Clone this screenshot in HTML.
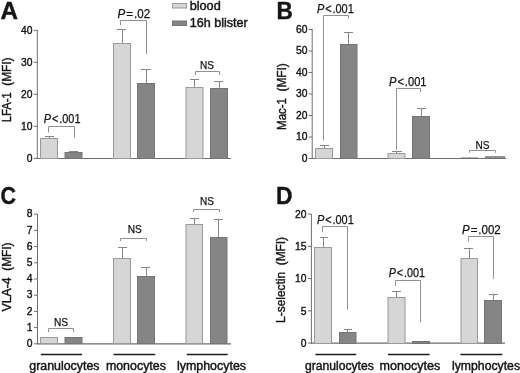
<!DOCTYPE html>
<html><head><meta charset="utf-8"><title>Figure</title>
<style>
html,body{margin:0;padding:0;background:#fff;}
body{width:520px;height:373px;overflow:hidden;}
svg{display:block;font-family:"Liberation Sans",sans-serif;will-change:transform;transform:translateZ(0);}
text{fill:#141414;stroke:#141414;stroke-width:0.4px;}
text.p{stroke-width:0.25px;}
text.h{stroke-width:0.45px;}
</style></head><body>
<svg width="520" height="373" viewBox="0 0 520 373">
<rect x="0" y="0" width="520" height="373" fill="#ffffff" stroke="none"/>
<text x="0.5" y="19" font-size="23.5" text-anchor="start" font-weight="bold" textLength="17.5" lengthAdjust="spacingAndGlyphs" >A</text>
<text x="276.6" y="19" font-size="23.5" text-anchor="start" font-weight="bold" textLength="16.3" lengthAdjust="spacingAndGlyphs" >B</text>
<text x="0.5" y="204" font-size="23.5" text-anchor="start" font-weight="bold" textLength="15.5" lengthAdjust="spacingAndGlyphs" >C</text>
<text x="276" y="204" font-size="23.5" text-anchor="start" font-weight="bold" textLength="16.5" lengthAdjust="spacingAndGlyphs" >D</text>
<line x1="37.3" y1="30" x2="37.3" y2="159.0" stroke="#6e6e6e" stroke-width="1"/>
<line x1="36.8" y1="158.5" x2="231" y2="158.5" stroke="#6e6e6e" stroke-width="1.1"/>
<line x1="33.8" y1="30.3" x2="37.3" y2="30.3" stroke="#6e6e6e" stroke-width="1"/>
<text x="32.5" y="34.4" font-size="11.8" text-anchor="end" font-weight="normal" textLength="11.5" lengthAdjust="spacingAndGlyphs" >40</text>
<line x1="33.8" y1="62.3" x2="37.3" y2="62.3" stroke="#6e6e6e" stroke-width="1"/>
<text x="32.5" y="66.39999999999999" font-size="11.8" text-anchor="end" font-weight="normal" textLength="11.5" lengthAdjust="spacingAndGlyphs" >30</text>
<line x1="33.8" y1="94.3" x2="37.3" y2="94.3" stroke="#6e6e6e" stroke-width="1"/>
<text x="32.5" y="98.39999999999999" font-size="11.8" text-anchor="end" font-weight="normal" textLength="11.5" lengthAdjust="spacingAndGlyphs" >20</text>
<line x1="33.8" y1="126.3" x2="37.3" y2="126.3" stroke="#6e6e6e" stroke-width="1"/>
<text x="32.5" y="130.4" font-size="11.8" text-anchor="end" font-weight="normal" textLength="11.5" lengthAdjust="spacingAndGlyphs" >10</text>
<line x1="33.8" y1="158.3" x2="37.3" y2="158.3" stroke="#6e6e6e" stroke-width="1"/>
<text x="32.5" y="162.4" font-size="11.8" text-anchor="end" font-weight="normal" textLength="5.75" lengthAdjust="spacingAndGlyphs" >0</text>
<text transform="translate(10.6,122.3) rotate(-90)" font-size="13.2" textLength="30.0" lengthAdjust="spacingAndGlyphs">LFA-1</text>
<text transform="translate(10.6,85.8) rotate(-90)" font-size="13.2" textLength="28.3" lengthAdjust="spacingAndGlyphs">(MFI)</text>
<line x1="49.5" y1="136.5" x2="49.5" y2="138.5" stroke="#868686" stroke-width="1"/>
<line x1="45" y1="136.5" x2="54" y2="136.5" stroke="#868686" stroke-width="1"/>
<rect x="40.5" y="138.5" width="17" height="20.0" fill="#d6d6d6" stroke="#9a9a9a" stroke-width="1"/>
<line x1="73.5" y1="151.5" x2="73.5" y2="152.5" stroke="#868686" stroke-width="1"/>
<line x1="69" y1="151.5" x2="78" y2="151.5" stroke="#868686" stroke-width="1"/>
<rect x="65.0" y="152.5" width="17.0" height="6.0" fill="#858585" stroke="#747474" stroke-width="1"/>
<line x1="122.5" y1="29.5" x2="122.5" y2="43.5" stroke="#868686" stroke-width="1"/>
<line x1="117" y1="29.5" x2="126" y2="29.5" stroke="#868686" stroke-width="1"/>
<rect x="113.5" y="43.5" width="17" height="115.0" fill="#d6d6d6" stroke="#9a9a9a" stroke-width="1"/>
<line x1="146.5" y1="69.5" x2="146.5" y2="83.5" stroke="#868686" stroke-width="1"/>
<line x1="141" y1="69.5" x2="151" y2="69.5" stroke="#868686" stroke-width="1"/>
<rect x="137.5" y="83.5" width="17" height="75.0" fill="#858585" stroke="#747474" stroke-width="1"/>
<line x1="194.5" y1="79.5" x2="194.5" y2="87.5" stroke="#868686" stroke-width="1"/>
<line x1="190" y1="79.5" x2="199" y2="79.5" stroke="#868686" stroke-width="1"/>
<rect x="186.0" y="87.5" width="17.0" height="71.0" fill="#d6d6d6" stroke="#9a9a9a" stroke-width="1"/>
<line x1="219.5" y1="81.5" x2="219.5" y2="88.5" stroke="#868686" stroke-width="1"/>
<line x1="214" y1="81.5" x2="223" y2="81.5" stroke="#868686" stroke-width="1"/>
<rect x="210.5" y="88.5" width="17" height="70.0" fill="#858585" stroke="#747474" stroke-width="1"/>
<polyline points="48.5,132.5 48.5,126.5 74.5,126.5 74.5,137.5" fill="none" stroke="#909090" stroke-width="1"/>
<text class="p" x="43.8" y="123" font-size="12.1" textLength="36.7" lengthAdjust="spacingAndGlyphs"><tspan font-style="italic">P</tspan><tspan dx="1">&lt;</tspan><tspan dx="1">.001</tspan></text>
<polyline points="120.5,25 120.5,20.5 146.5,20.5 146.5,54" fill="none" stroke="#909090" stroke-width="1"/>
<text class="p" x="117.6" y="17.8" font-size="12.1" textLength="32.599999999999994" lengthAdjust="spacingAndGlyphs"><tspan font-style="italic">P</tspan><tspan dx="1">=</tspan><tspan dx="1">.02</tspan></text>
<polyline points="195.5,75 195.5,71.5 219.5,71.5 219.5,75" fill="none" stroke="#909090" stroke-width="1"/>
<text x="200" y="69" font-size="11.4" text-anchor="start" font-weight="normal" textLength="14" lengthAdjust="spacingAndGlyphs" class="p">NS</text>
<rect x="172.5" y="3.5" width="14" height="4.5" fill="#d6d6d6" stroke="#9a9a9a" stroke-width="1"/>
<text x="189.7" y="9.8" font-size="13" text-anchor="start" font-weight="normal" textLength="31" lengthAdjust="spacingAndGlyphs" class="h">blood</text>
<rect x="172.5" y="21" width="14" height="4.5" fill="#858585" stroke="#747474" stroke-width="1"/>
<text x="189.7" y="26.8" font-size="13" text-anchor="start" font-weight="normal" textLength="58" lengthAdjust="spacingAndGlyphs" class="h">16h blister</text>
<line x1="312.2" y1="29" x2="312.2" y2="159.0" stroke="#6e6e6e" stroke-width="1"/>
<line x1="311.7" y1="158.5" x2="506" y2="158.5" stroke="#6e6e6e" stroke-width="1.1"/>
<line x1="308.7" y1="29.5" x2="312.2" y2="29.5" stroke="#6e6e6e" stroke-width="1"/>
<text x="307.6" y="32.7" font-size="11.8" text-anchor="end" font-weight="normal" textLength="11.5" lengthAdjust="spacingAndGlyphs" >60</text>
<line x1="308.7" y1="51.0" x2="312.2" y2="51.0" stroke="#6e6e6e" stroke-width="1"/>
<text x="307.6" y="54.2" font-size="11.8" text-anchor="end" font-weight="normal" textLength="11.5" lengthAdjust="spacingAndGlyphs" >50</text>
<line x1="308.7" y1="72.5" x2="312.2" y2="72.5" stroke="#6e6e6e" stroke-width="1"/>
<text x="307.6" y="75.7" font-size="11.8" text-anchor="end" font-weight="normal" textLength="11.5" lengthAdjust="spacingAndGlyphs" >40</text>
<line x1="308.7" y1="94.0" x2="312.2" y2="94.0" stroke="#6e6e6e" stroke-width="1"/>
<text x="307.6" y="97.2" font-size="11.8" text-anchor="end" font-weight="normal" textLength="11.5" lengthAdjust="spacingAndGlyphs" >30</text>
<line x1="308.7" y1="115.5" x2="312.2" y2="115.5" stroke="#6e6e6e" stroke-width="1"/>
<text x="307.6" y="118.7" font-size="11.8" text-anchor="end" font-weight="normal" textLength="11.5" lengthAdjust="spacingAndGlyphs" >20</text>
<line x1="308.7" y1="137.0" x2="312.2" y2="137.0" stroke="#6e6e6e" stroke-width="1"/>
<text x="307.6" y="140.2" font-size="11.8" text-anchor="end" font-weight="normal" textLength="11.5" lengthAdjust="spacingAndGlyphs" >10</text>
<line x1="308.7" y1="158.5" x2="312.2" y2="158.5" stroke="#6e6e6e" stroke-width="1"/>
<text x="307.6" y="161.7" font-size="11.8" text-anchor="end" font-weight="normal" textLength="5.75" lengthAdjust="spacingAndGlyphs" >0</text>
<text transform="translate(285.8,129.9) rotate(-90)" font-size="13.2" textLength="31.9" lengthAdjust="spacingAndGlyphs">Mac-1</text>
<text transform="translate(285.8,91.5) rotate(-90)" font-size="13.2" textLength="28.3" lengthAdjust="spacingAndGlyphs">(MFI)</text>
<line x1="324.5" y1="145.5" x2="324.5" y2="148.5" stroke="#868686" stroke-width="1"/>
<line x1="320" y1="145.5" x2="329" y2="145.5" stroke="#868686" stroke-width="1"/>
<rect x="315.5" y="148.5" width="17" height="10.0" fill="#d6d6d6" stroke="#9a9a9a" stroke-width="1"/>
<line x1="348.5" y1="32.5" x2="348.5" y2="44.5" stroke="#868686" stroke-width="1"/>
<line x1="344" y1="32.5" x2="353" y2="32.5" stroke="#868686" stroke-width="1"/>
<rect x="340.5" y="44.5" width="16.5" height="114.0" fill="#858585" stroke="#747474" stroke-width="1"/>
<line x1="396.5" y1="151.5" x2="396.5" y2="153.5" stroke="#868686" stroke-width="1"/>
<line x1="392" y1="151.5" x2="402" y2="151.5" stroke="#868686" stroke-width="1"/>
<rect x="388.0" y="153.5" width="17.0" height="5.0" fill="#d6d6d6" stroke="#9a9a9a" stroke-width="1"/>
<line x1="421.5" y1="108.5" x2="421.5" y2="116.5" stroke="#868686" stroke-width="1"/>
<line x1="417" y1="108.5" x2="426" y2="108.5" stroke="#868686" stroke-width="1"/>
<rect x="412.5" y="116.5" width="17" height="42.0" fill="#858585" stroke="#747474" stroke-width="1"/>
<line x1="461" y1="157.5" x2="478" y2="157.5" stroke="#b4b4b4" stroke-width="1"/>
<line x1="485" y1="157" x2="505" y2="157" stroke="#777" stroke-width="1.6"/>
<polyline points="323.5,140.5 323.5,15.5 348.5,15.5 348.5,18.8" fill="none" stroke="#909090" stroke-width="1"/>
<text class="p" x="317" y="12.5" font-size="12.1" textLength="36.80000000000001" lengthAdjust="spacingAndGlyphs"><tspan font-style="italic">P</tspan><tspan dx="1">&lt;</tspan><tspan dx="1">.001</tspan></text>
<polyline points="396.5,150 396.5,88.5 420.5,88.5 420.5,92" fill="none" stroke="#909090" stroke-width="1"/>
<text class="p" x="389" y="86" font-size="12.1" textLength="37.60000000000002" lengthAdjust="spacingAndGlyphs"><tspan font-style="italic">P</tspan><tspan dx="1">&lt;</tspan><tspan dx="1">.001</tspan></text>
<polyline points="469.5,152.8 469.5,150.5 495.5,150.5 495.5,152.8" fill="none" stroke="#909090" stroke-width="1"/>
<text x="475.4" y="148.6" font-size="11.4" text-anchor="start" font-weight="normal" textLength="14" lengthAdjust="spacingAndGlyphs" class="p">NS</text>
<line x1="37.5" y1="214" x2="37.5" y2="344.4" stroke="#6e6e6e" stroke-width="1"/>
<line x1="37.0" y1="343.9" x2="231" y2="343.9" stroke="#6e6e6e" stroke-width="1.1"/>
<line x1="34.0" y1="214.2" x2="37.5" y2="214.2" stroke="#6e6e6e" stroke-width="1"/>
<text x="32.5" y="217.29999999999998" font-size="11.8" text-anchor="end" font-weight="normal" textLength="5.75" lengthAdjust="spacingAndGlyphs" >8</text>
<line x1="34.0" y1="230.39999999999998" x2="37.5" y2="230.39999999999998" stroke="#6e6e6e" stroke-width="1"/>
<text x="32.5" y="233.49999999999997" font-size="11.8" text-anchor="end" font-weight="normal" textLength="5.75" lengthAdjust="spacingAndGlyphs" >7</text>
<line x1="34.0" y1="246.6" x2="37.5" y2="246.6" stroke="#6e6e6e" stroke-width="1"/>
<text x="32.5" y="249.7" font-size="11.8" text-anchor="end" font-weight="normal" textLength="5.75" lengthAdjust="spacingAndGlyphs" >6</text>
<line x1="34.0" y1="262.79999999999995" x2="37.5" y2="262.79999999999995" stroke="#6e6e6e" stroke-width="1"/>
<text x="32.5" y="265.9" font-size="11.8" text-anchor="end" font-weight="normal" textLength="5.75" lengthAdjust="spacingAndGlyphs" >5</text>
<line x1="34.0" y1="279.0" x2="37.5" y2="279.0" stroke="#6e6e6e" stroke-width="1"/>
<text x="32.5" y="282.1" font-size="11.8" text-anchor="end" font-weight="normal" textLength="5.75" lengthAdjust="spacingAndGlyphs" >4</text>
<line x1="34.0" y1="295.2" x2="37.5" y2="295.2" stroke="#6e6e6e" stroke-width="1"/>
<text x="32.5" y="298.3" font-size="11.8" text-anchor="end" font-weight="normal" textLength="5.75" lengthAdjust="spacingAndGlyphs" >3</text>
<line x1="34.0" y1="311.4" x2="37.5" y2="311.4" stroke="#6e6e6e" stroke-width="1"/>
<text x="32.5" y="314.5" font-size="11.8" text-anchor="end" font-weight="normal" textLength="5.75" lengthAdjust="spacingAndGlyphs" >2</text>
<line x1="34.0" y1="327.59999999999997" x2="37.5" y2="327.59999999999997" stroke="#6e6e6e" stroke-width="1"/>
<text x="32.5" y="330.7" font-size="11.8" text-anchor="end" font-weight="normal" textLength="5.75" lengthAdjust="spacingAndGlyphs" >1</text>
<line x1="34.0" y1="343.79999999999995" x2="37.5" y2="343.79999999999995" stroke="#6e6e6e" stroke-width="1"/>
<text x="32.5" y="346.9" font-size="11.8" text-anchor="end" font-weight="normal" textLength="5.75" lengthAdjust="spacingAndGlyphs" >0</text>
<text transform="translate(10.5,311.4) rotate(-90)" font-size="13.2" textLength="34.1" lengthAdjust="spacingAndGlyphs">VLA-4</text>
<text transform="translate(10.5,270.8) rotate(-90)" font-size="13.2" textLength="28.3" lengthAdjust="spacingAndGlyphs">(MFI)</text>
<rect x="40.5" y="337.5" width="17" height="6.0" fill="#d6d6d6" stroke="#9a9a9a" stroke-width="1"/>
<rect x="65.0" y="337.5" width="17.0" height="6.0" fill="#858585" stroke="#747474" stroke-width="1"/>
<line x1="122.5" y1="247.5" x2="122.5" y2="258.5" stroke="#868686" stroke-width="1"/>
<line x1="118" y1="247.5" x2="127" y2="247.5" stroke="#868686" stroke-width="1"/>
<rect x="113.5" y="258.5" width="17" height="85.0" fill="#d6d6d6" stroke="#9a9a9a" stroke-width="1"/>
<line x1="146.5" y1="267.5" x2="146.5" y2="276.5" stroke="#868686" stroke-width="1"/>
<line x1="141" y1="267.5" x2="150" y2="267.5" stroke="#868686" stroke-width="1"/>
<rect x="137.5" y="276.5" width="17" height="67.0" fill="#858585" stroke="#747474" stroke-width="1"/>
<line x1="194.5" y1="218.5" x2="194.5" y2="224.5" stroke="#868686" stroke-width="1"/>
<line x1="190" y1="218.5" x2="199" y2="218.5" stroke="#868686" stroke-width="1"/>
<rect x="186.0" y="224.5" width="16.5" height="119.0" fill="#d6d6d6" stroke="#9a9a9a" stroke-width="1"/>
<line x1="218.5" y1="219.5" x2="218.5" y2="237.5" stroke="#868686" stroke-width="1"/>
<line x1="214" y1="219.5" x2="223" y2="219.5" stroke="#868686" stroke-width="1"/>
<rect x="210.5" y="237.5" width="16.5" height="106.0" fill="#858585" stroke="#747474" stroke-width="1"/>
<polyline points="48.5,332 48.5,328.5 73.5,328.5 73.5,332" fill="none" stroke="#909090" stroke-width="1"/>
<text x="54" y="326.4" font-size="11.4" text-anchor="start" font-weight="normal" textLength="14" lengthAdjust="spacingAndGlyphs" class="p">NS</text>
<polyline points="120.5,241 120.5,238.5 146.5,238.5 146.5,241" fill="none" stroke="#909090" stroke-width="1"/>
<text x="127.8" y="232.8" font-size="11.4" text-anchor="start" font-weight="normal" textLength="14" lengthAdjust="spacingAndGlyphs" class="p">NS</text>
<polyline points="193.5,212 193.5,209.5 219.5,209.5 219.5,212" fill="none" stroke="#909090" stroke-width="1"/>
<text x="200" y="204.8" font-size="11.4" text-anchor="start" font-weight="normal" textLength="14" lengthAdjust="spacingAndGlyphs" class="p">NS</text>
<line x1="40.8" y1="354.5" x2="82" y2="354.5" stroke="#1c1c1c" stroke-width="1.4"/>
<line x1="113.5" y1="354.5" x2="155.2" y2="354.5" stroke="#1c1c1c" stroke-width="1.4"/>
<line x1="186.8" y1="354.5" x2="227.7" y2="354.5" stroke="#1c1c1c" stroke-width="1.4"/>
<text x="29.3" y="370.2" font-size="13.2" text-anchor="start" font-weight="normal" textLength="70.2" lengthAdjust="spacingAndGlyphs" class="h">granulocytes</text>
<text x="105.9" y="370.2" font-size="13.2" text-anchor="start" font-weight="normal" textLength="60" lengthAdjust="spacingAndGlyphs" class="h">monocytes</text>
<text x="177" y="370.2" font-size="13.2" text-anchor="start" font-weight="normal" textLength="69" lengthAdjust="spacingAndGlyphs" class="h">lymphocytes</text>
<line x1="311.4" y1="214" x2="311.4" y2="343.6" stroke="#6e6e6e" stroke-width="1"/>
<line x1="310.9" y1="343.1" x2="505" y2="343.1" stroke="#6e6e6e" stroke-width="1.1"/>
<line x1="307.9" y1="214.0" x2="311.4" y2="214.0" stroke="#6e6e6e" stroke-width="1"/>
<text x="306.6" y="217.7" font-size="11.8" text-anchor="end" font-weight="normal" textLength="11.5" lengthAdjust="spacingAndGlyphs" >20</text>
<line x1="307.9" y1="246.28" x2="311.4" y2="246.28" stroke="#6e6e6e" stroke-width="1"/>
<text x="306.6" y="249.98" font-size="11.8" text-anchor="end" font-weight="normal" textLength="11.5" lengthAdjust="spacingAndGlyphs" >15</text>
<line x1="307.9" y1="278.56" x2="311.4" y2="278.56" stroke="#6e6e6e" stroke-width="1"/>
<text x="306.6" y="282.26" font-size="11.8" text-anchor="end" font-weight="normal" textLength="11.5" lengthAdjust="spacingAndGlyphs" >10</text>
<line x1="307.9" y1="310.84000000000003" x2="311.4" y2="310.84000000000003" stroke="#6e6e6e" stroke-width="1"/>
<text x="306.6" y="314.54" font-size="11.8" text-anchor="end" font-weight="normal" textLength="5.75" lengthAdjust="spacingAndGlyphs" >5</text>
<line x1="307.9" y1="343.12" x2="311.4" y2="343.12" stroke="#6e6e6e" stroke-width="1"/>
<text x="306.6" y="346.82" font-size="11.8" text-anchor="end" font-weight="normal" textLength="5.75" lengthAdjust="spacingAndGlyphs" >0</text>
<text transform="translate(285.2,322.9) rotate(-90)" font-size="13.2" textLength="51.1" lengthAdjust="spacingAndGlyphs">L-selectin</text>
<text transform="translate(285.2,265.3) rotate(-90)" font-size="13.2" textLength="28.3" lengthAdjust="spacingAndGlyphs">(MFI)</text>
<line x1="323.5" y1="237.5" x2="323.5" y2="247.5" stroke="#868686" stroke-width="1"/>
<line x1="320" y1="237.5" x2="328" y2="237.5" stroke="#868686" stroke-width="1"/>
<rect x="314.5" y="247.5" width="17" height="96.0" fill="#d6d6d6" stroke="#9a9a9a" stroke-width="1"/>
<line x1="347.5" y1="329.5" x2="347.5" y2="332.5" stroke="#868686" stroke-width="1"/>
<line x1="344" y1="329.5" x2="352" y2="329.5" stroke="#868686" stroke-width="1"/>
<rect x="339.5" y="332.5" width="16.5" height="11.0" fill="#858585" stroke="#747474" stroke-width="1"/>
<line x1="396.5" y1="291.5" x2="396.5" y2="297.5" stroke="#868686" stroke-width="1"/>
<line x1="392" y1="291.5" x2="401" y2="291.5" stroke="#868686" stroke-width="1"/>
<rect x="388.0" y="297.5" width="17.0" height="46.0" fill="#d6d6d6" stroke="#9a9a9a" stroke-width="1"/>
<rect x="412.5" y="341.5" width="17" height="2.0" fill="#858585" stroke="#747474" stroke-width="1"/>
<line x1="469.5" y1="248.5" x2="469.5" y2="258.5" stroke="#868686" stroke-width="1"/>
<line x1="464" y1="248.5" x2="473" y2="248.5" stroke="#868686" stroke-width="1"/>
<rect x="461.0" y="258.5" width="16.5" height="85.0" fill="#d6d6d6" stroke="#9a9a9a" stroke-width="1"/>
<line x1="493.5" y1="294.5" x2="493.5" y2="300.5" stroke="#868686" stroke-width="1"/>
<line x1="489" y1="294.5" x2="498" y2="294.5" stroke="#868686" stroke-width="1"/>
<rect x="484.5" y="300.5" width="17" height="43.0" fill="#858585" stroke="#747474" stroke-width="1"/>
<polyline points="322.5,232.3 322.5,226.5 347.5,226.5 347.5,309.7" fill="none" stroke="#909090" stroke-width="1"/>
<text class="p" x="317" y="223.5" font-size="12.1" textLength="36.80000000000001" lengthAdjust="spacingAndGlyphs"><tspan font-style="italic">P</tspan><tspan dx="1">&lt;</tspan><tspan dx="1">.001</tspan></text>
<polyline points="395.5,286 395.5,280.5 420.5,280.5 420.5,322" fill="none" stroke="#909090" stroke-width="1"/>
<text class="p" x="388.7" y="276.5" font-size="12.1" textLength="36.30000000000001" lengthAdjust="spacingAndGlyphs"><tspan font-style="italic">P</tspan><tspan dx="1">&lt;</tspan><tspan dx="1">.001</tspan></text>
<polyline points="468.5,241.5 468.5,236.5 493.5,236.5 493.5,279" fill="none" stroke="#909090" stroke-width="1"/>
<text class="p" x="462" y="233.5" font-size="12.1" textLength="38.80000000000001" lengthAdjust="spacingAndGlyphs"><tspan font-style="italic">P</tspan><tspan dx="1">=</tspan><tspan dx="1">.002</tspan></text>
<line x1="315.4" y1="354.5" x2="356.2" y2="354.5" stroke="#1c1c1c" stroke-width="1.4"/>
<line x1="387.9" y1="354.5" x2="429.6" y2="354.5" stroke="#1c1c1c" stroke-width="1.4"/>
<line x1="460.4" y1="354.5" x2="502.3" y2="354.5" stroke="#1c1c1c" stroke-width="1.4"/>
<text x="305" y="370.2" font-size="13.2" text-anchor="start" font-weight="normal" textLength="68.8" lengthAdjust="spacingAndGlyphs" class="h">granulocytes</text>
<text x="379.6" y="370.2" font-size="13.2" text-anchor="start" font-weight="normal" textLength="60.6" lengthAdjust="spacingAndGlyphs" class="h">monocytes</text>
<text x="452" y="370.2" font-size="13.2" text-anchor="start" font-weight="normal" textLength="68" lengthAdjust="spacingAndGlyphs" class="h">lymphocytes</text>
</svg>
</body></html>
